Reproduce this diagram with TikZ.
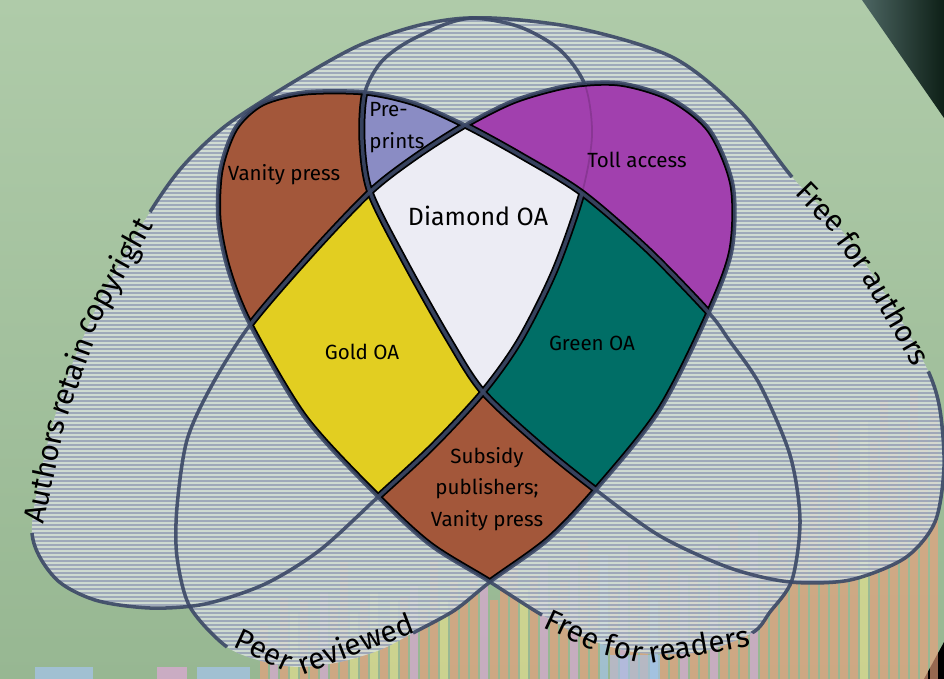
\documentclass[tikz,border=0pt]{standalone}
\usepackage{fontspec}
\setmainfont{Fira Sans}

\definecolor{bgtop}{HTML}{AFCBA9}
\definecolor{bgbot}{HTML}{97B792}
\definecolor{hatchbase}{HTML}{D7E0DB}
\definecolor{hatchdot}{HTML}{7E88AA}
\definecolor{slate}{HTML}{3B4866}
\definecolor{vanitybrown}{HTML}{A3573A}
\definecolor{preprintblue}{HTML}{8A8CC4}
\definecolor{diamondwhite}{HTML}{ECECF4}
\definecolor{tollpurple}{HTML}{A140AE}
\definecolor{goldyellow}{HTML}{E2CE21}
\definecolor{greenteal}{HTML}{006E66}
\definecolor{barO}{HTML}{EBA07C}
\definecolor{barP}{HTML}{E0A8D8}
\definecolor{barY}{HTML}{E8E28E}
\definecolor{barB}{HTML}{A6C4EE}
\definecolor{cornerL}{HTML}{4D6663}
\definecolor{cornerR}{HTML}{0E2017}

\newcommand\innerfont{\fontsize{11.7}{18}\selectfont}
\newcommand\outerfont{\fontsize{17}{20}\selectfont}

\tikzset{
  setA/.style={insert path={plot[smooth cycle] coordinates {(32,533) (55,578)
    (95,600) (150,608) (205,604) (265,584) (320,550) (378,497) (432,447)
    (483,392) (520,340) (555,270) (582,193) (592,135) (585,85) (560,50)
    (520,27) (472,18) (420,25) (360,45) (300,78) (228,124) (183,166)
    (150,212) (105,290) (70,370) (46,450)}}},
  setF/.style={insert path={plot[smooth cycle] coordinates {(596,490) (660,536)
    (730,568) (790,582) (850,580) (905,558) (935,522) (944,467) (940,410)
    (929,373) (900,318) (868,268) (835,222) (792,177) (739,110) (672,57)
    (572,27) (472,18) (417,37) (383,60) (365,92) (362,140) (370,192)
    (405,262) (449,340) (483,392) (540,445)}}},
  setP/.style={insert path={plot[smooth cycle] coordinates {(227,647) (265,662)
    (300,667) (340,662) (380,650) (413,633) (455,610) (490,582) (548,540)
    (596,490) (660,410) (709,313) (732,250) (733,185) (710,130) (670,98)
    (620,83) (570,85) (515,100) (465,125) (415,157) (370,192) (310,255)
    (250,325) (212,385) (187,440) (177,507) (177,557) (190,607)}}},
  setR/.style={insert path={plot[smooth cycle] coordinates {(542,615) (590,640)
    (640,653) (700,652) (752,633) (770,612) (792,580) (800,520) (790,455)
    (760,385) (729,340) (709,313) (648,250) (582,193) (520,155) (465,125)
    (415,103) (365,92) (305,92) (262,103) (235,128) (220,170) (218,220)
    (228,270) (250,325) (305,418) (378,497) (430,545) (490,582)}}},
  notA/.style={insert path={(0,0) rectangle (944,679)}, setA},
  notF/.style={insert path={(0,0) rectangle (944,679)}, setF},
  notP/.style={insert path={(0,0) rectangle (944,679)}, setP},
  notR/.style={insert path={(0,0) rectangle (944,679)}, setR},
  rim/.style={draw=black, line width=4pt},
  outline/.style={draw=slate, line width=2pt, opacity=.9},
  hatchline/.style={draw=hatchdot, line width=.75pt, opacity=.6},
  lbl/.style={inner sep=0pt, font=\innerfont},
  setword/.style={inner sep=0pt, font=\outerfont, rotate=#1}
}

\begin{document}
\begin{tikzpicture}[x=0.02cm, y=-0.02cm]
\useasboundingbox (0,0) rectangle (944,679);
% background
\shade[top color=bgtop, bottom color=bgbot] (0,0) rectangle (944,679);
\shade[left color=cornerL, right color=cornerR] (862,0) -- (944,0) -- (944,118) -- cycle;
\fill[black] (924,679) -- (944,642) -- (944,679) -- cycle;
% faded bars
\foreach \x/\t/\c in {260/625/barO, 270/640/barP, 280/598/barO, 290/612/barY,
  300/600/barO, 310/628/barO, 320/592/barP, 330/606/barO, 340/562/barO,
  350/612/barY, 360/600/barO, 370/592/barY, 380/620/barO, 390/600/barY,
  400/596/barO, 410/586/barP, 420/610/barO, 430/560/barO, 440/600/barY,
  450/582/barO, 460/590/barO, 470/575/barO, 480/585/barP, 490/600/barO,
  500/570/barO, 510/560/barO, 520/590/barY, 530/575/barO, 540/560/barP,
  550/590/barO, 560/580/barO, 570/560/barP, 580/540/barO, 590/570/barO,
  600/555/barB, 610/590/barO, 620/545/barP, 630/580/barO, 640/560/barO,
  650/600/barB, 660/570/barO, 670/540/barO, 680/575/barP, 690/550/barO,
  700/585/barO, 710/545/barP, 720/570/barO, 730/520/barO, 740/560/barO,
  750/530/barP, 760/570/barO, 770/520/barO, 780/550/barO, 790/500/barO,
  800/530/barO, 810/480/barO, 820/470/barO, 830/430/barO, 840/500/barO,
  850/460/barO, 860/420/barY, 870/440/barO, 880/400/barO, 890/450/barO,
  900/420/barO, 910/390/barO, 920/430/barO, 930/410/barO}
  \fill[\c, opacity=.65] (\x,\t) rectangle (\x+8,679);
\fill[barB, opacity=.7] (35,667) rectangle (93,679);
\fill[barP, opacity=.7] (157,667) rectangle (187,679);
\fill[barB, opacity=.7] (197,667) rectangle (250,679);
\fill[barB, opacity=.6] (610,655) rectangle (660,679);
% hatched union of the four sets
\fill[hatchbase, opacity=.85, setA, setF, setP, setR];
\begin{scope}
  \clip[setA, setF, setP, setR];
  \foreach \y in {1,5,...,679}
    \draw[hatchline] (0,\y) -- (944,\y);
\end{scope}
% coloured regions
\begin{scope}[even odd rule]
  \clip[setA]; \clip[setR]; \clip[notF]; \clip[notP];
  \fill[vanitybrown] (0,0) rectangle (944,679);
  \draw[rim, setA, setF, setP, setR];
\end{scope}
\begin{scope}[even odd rule]
  \clip[setA]; \clip[setF]; \clip[setR]; \clip[notP];
  \fill[preprintblue] (0,0) rectangle (944,679);
  \draw[rim, setA, setF, setP, setR];
\end{scope}
\begin{scope}[even odd rule]
  \clip[setA]; \clip[setF]; \clip[setR]; \clip[setP];
  \fill[diamondwhite] (0,0) rectangle (944,679);
  \draw[rim, setA, setF, setP, setR];
\end{scope}
\begin{scope}[even odd rule]
  \clip[setF]; \clip[setP]; \clip[notR];
  \fill[tollpurple] (0,0) rectangle (944,679);
  \draw[setA, draw=black, opacity=.15, line width=1pt];
  \draw[rim, setF, setP, setR];
\end{scope}
\begin{scope}[even odd rule]
  \clip[setA]; \clip[setP]; \clip[setR]; \clip[notF];
  \fill[goldyellow] (0,0) rectangle (944,679);
  \draw[rim, setA, setF, setP, setR];
\end{scope}
\begin{scope}[even odd rule]
  \clip[setF]; \clip[setP]; \clip[setR]; \clip[notA];
  \fill[greenteal] (0,0) rectangle (944,679);
  \draw[rim, setA, setF, setP, setR];
\end{scope}
\begin{scope}[even odd rule]
  \clip[setP]; \clip[setR]; \clip[notA]; \clip[notF];
  \fill[vanitybrown] (0,0) rectangle (944,679);
  \draw[rim, setA, setF, setP, setR];
\end{scope}
% set outlines, broken where the set names sit
\begin{scope}[even odd rule]
  \clip (0,0) rectangle (944,679)
    (1,533) -- (70,533) -- (85,420) -- (120,310) -- (174,230) -- (126,194)
      -- (60,280) -- (1,400) -- cycle
    (768,195) -- (816,159) -- (910,250) -- (943,366) -- (905,380)
      -- (830,270) -- cycle
    (244,630) -- (403,616) -- (423,650) -- (320,678) -- (210,664) -- cycle
    (552,598) -- (732,618) -- (772,648) -- (650,678) -- (532,632) -- cycle;
  \draw[outline, setF];
  \draw[outline, setP];
  \draw[outline, setR];
  \begin{scope}
    \clip[notP]; \draw[outline, setA];
  \end{scope}
  \begin{scope}
    \clip[setP]; \clip[notF]; \draw[outline, setA];
  \end{scope}
  \begin{scope}
    \clip[setP]; \clip[setF]; \clip[setR]; \draw[outline, setA];
  \end{scope}
\end{scope}
% region names
\node[lbl] (vanity) at (284,175) {Vanity press};
\node[lbl, anchor=north west, align=left] (preprints) at (369,102) {Pre-\\prints};
\node[lbl] (toll) at (637,160) {Toll access};
\node[lbl, font=\fontsize{14.2}{17}\selectfont] (diamond) at (478,216) {Diamond OA};
\node[lbl] (gold) at (362,352) {Gold OA};
\node[lbl] (green) at (592,343) {Green OA};
\node[lbl, align=center] (subsidy) at (487,489) {Subsidy\\publishers;\\Vanity press};
% set names, word by word along the rims
\node[setword=78] (authors1) at (44,471) {Authors};
\node[setword=70] (authors2) at (70,376) {retain};
\node[setword=61] (authors3) at (115,277) {copyright};
\node[setword=-46] (freeauth1) at (821,207) {Free};
\node[setword=-54] (freeauth2) at (856,251) {for};
\node[setword=-60] (freeauth3) at (897,317) {authors};
\node[setword=-25] (peer1) at (264,650) {Peer};
\node[setword=21] (peer2) at (355,643) {reviewed};
\node[setword=-25] (readers1) at (573,630) {Free};
\node[setword=-13] (readers2) at (624,648) {for};
\node[setword=10] (readers3) at (699,644) {readers};
\end{tikzpicture}
\end{document}
